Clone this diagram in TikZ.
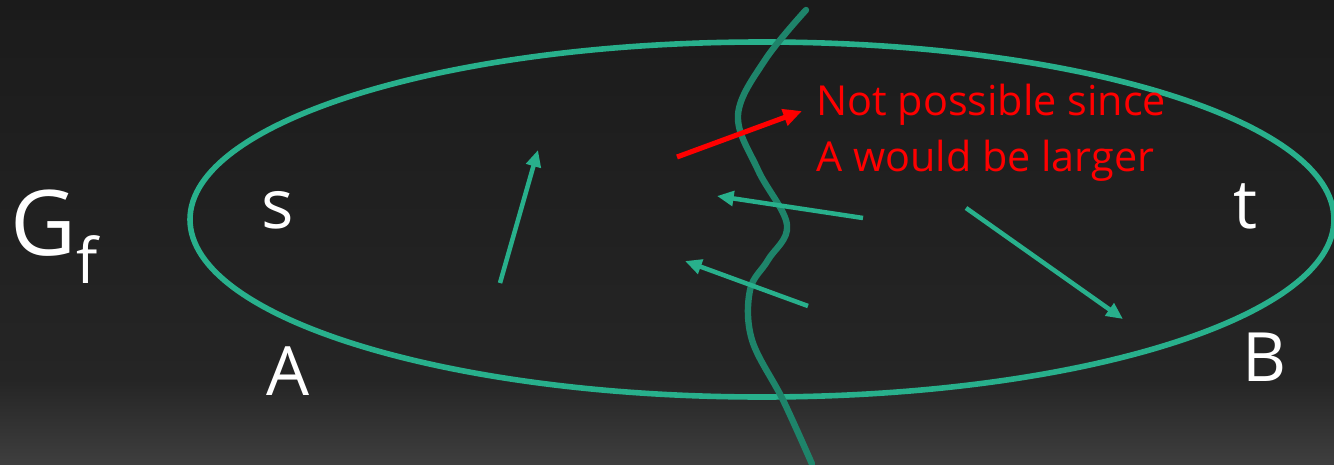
\documentclass[tikz,border=0pt]{standalone}
\usepackage{fontspec}
\setmainfont{Open Sans}
\usetikzlibrary{arrows.meta}

\definecolor{setteal}{RGB}{40,176,140}
\definecolor{cutteal}{RGB}{30,132,106}
\definecolor{bgtop}{RGB}{27,27,27}
\definecolor{bgmid}{RGB}{37,37,37}
\definecolor{bgbot}{RGB}{62,62,62}

\begin{document}
\begin{tikzpicture}[
  x=0.75pt,y=-0.75pt,
  lbl/.style={text=white,inner sep=0pt,font=\fontsize{51}{56}\selectfont},
  note/.style={text=red,inner sep=0pt,align=left,font=\fontsize{31}{42}\selectfont},
  edge/.style={-{Triangle[length=12.5pt,width=11pt]},line width=3.4pt,setteal},
  redge/.style={-{Triangle[length=14pt,width=12.5pt]},line width=3.8pt,red},
  cutline/.style={line width=4.8pt,cutteal,line cap=round}
]
  % background
  \useasboundingbox (0,0) rectangle (1334,464);
  \shade[top color=bgtop,bottom color=bgmid] (0,0) rectangle (1334,380);
  \shade[top color=bgmid,bottom color=bgbot] (0,380) rectangle (1334,464);

  % residual graph and the cut
  \draw[setteal,line width=4.2pt] (762,219.5) ellipse [x radius=572, y radius=177.5];
  \draw[cutline] plot[smooth,tension=0.6] coordinates {(806,10) (765,60) (738,115) (758,170)
    (787,225) (768,260) (750,290) (752,340) (783,400) (812,464)};

  \node[lbl,anchor=base west,font=\fontsize{68}{72}\selectfont] (gf) at (10,255)
    {G\raisebox{-21pt}{\fontsize{47}{50}\selectfont f}};
  \node[lbl,anchor=base] (s) at (278,228) {s};
  \node[lbl,anchor=base] (t) at (1245,228) {t};
  \node[lbl,anchor=base] (a) at (288,395) {A};
  \node[lbl,anchor=base] (b) at (1265,381) {B};
  \node[note,anchor=north west] (msg) at (816,84) {Not possible since\\A would be larger};

  \coordinate (u1) at (500,283);  \coordinate (v1) at (538,150);
  \coordinate (u2) at (863,218);  \coordinate (v2) at (717,196);
  \coordinate (u3) at (808,306);  \coordinate (v3) at (685,261);
  \coordinate (u4) at (966,208);  \coordinate (v4) at (1123,319);
  \coordinate (r1) at (677,157);  \coordinate (r2) at (802,111);

  \draw[edge] (u1) -- (v1);
  \draw[edge] (u2) -- (v2);
  \draw[edge] (u3) -- (v3);
  \draw[edge] (u4) -- (v4);
  \draw[redge] (r1) -- (r2);
\end{tikzpicture}
\end{document}
